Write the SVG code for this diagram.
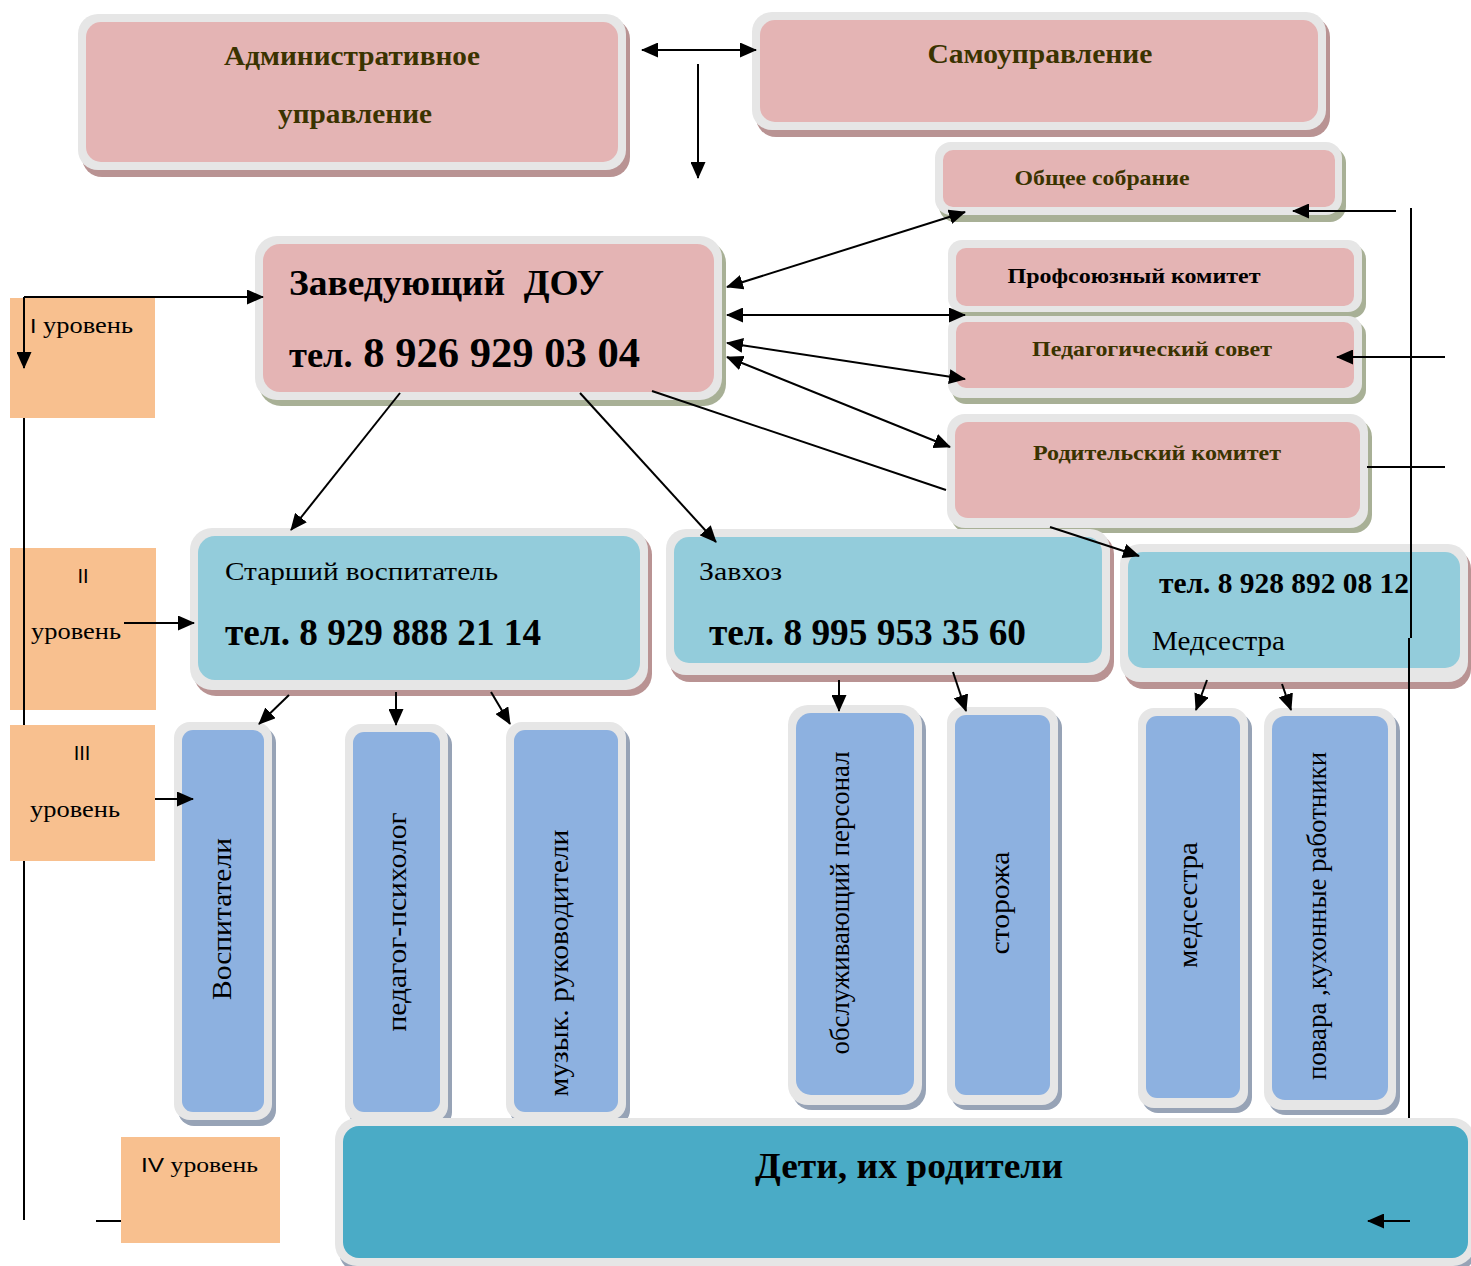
<svg xmlns="http://www.w3.org/2000/svg" width="1471" height="1266" viewBox="0 0 1471 1266">
<style>
.o{fill:#e6e6e6}
.sp{fill:#b99393}
.sg{fill:#a8b096}
.sb{fill:#97a3b6}
.pk{fill:#e4b4b4}
.cy{fill:#93ccdb}
.bl{fill:#8db1e0}
.dt{fill:#4aabc6}
.lv{fill:#f8c08f}
text{font-family:"Liberation Serif","Times New Roman",serif;fill:#000}
.hb{font-weight:bold;fill:#3a3300}
.bk{font-weight:bold;fill:#000}
.sans{font-family:"Liberation Sans",Arial,sans-serif}
.c{stroke:#000;stroke-width:2;fill:none}
.a{marker-end:url(#ah)}
.d{marker-start:url(#ah);marker-end:url(#ah)}
</style>
<defs>
<marker id="ah" markerUnits="userSpaceOnUse" markerWidth="17" markerHeight="15" refX="16" refY="7.5" orient="auto-start-reverse">
<path d="M0,0 L17,7.5 L0,15 z" fill="#000"/>
</marker>
</defs>
<rect width="1471" height="1266" fill="#fff"/>

<!-- level labels -->
<g id="level1"><rect class="lv" x="10" y="298" width="145" height="120"/><text x="30" y="333" font-size="23" textLength="103" lengthAdjust="spacingAndGlyphs"><tspan class="sans" font-size="20">I</tspan> уровень</text></g>
<g id="level2"><rect class="lv" x="10" y="548" width="146" height="162"/><text class="sans" x="83" y="583" font-size="20" text-anchor="middle">II</text><text x="31" y="639" font-size="23" textLength="90" lengthAdjust="spacingAndGlyphs">уровень</text></g>
<g id="level3"><rect class="lv" x="10" y="725" width="145" height="136"/><text class="sans" x="82" y="760" font-size="20" text-anchor="middle">III</text><text x="30" y="817" font-size="23" textLength="90" lengthAdjust="spacingAndGlyphs">уровень</text></g>
<g id="level4"><rect class="lv" x="121" y="1137" width="159" height="106"/><text x="141" y="1172" font-size="21" textLength="117" lengthAdjust="spacingAndGlyphs"><tspan class="sans" font-size="20">IV</tspan> уровень</text></g>

<!-- nodes -->
<g id="admin">
<rect class="sp" x="82" y="19" width="548" height="158" rx="20"/>
<rect class="o" x="78" y="14" width="548" height="156" rx="20"/>
<rect class="pk" x="86" y="22" width="532" height="140" rx="15"/>
<text class="hb" x="352" y="65" font-size="28" text-anchor="middle" textLength="256" lengthAdjust="spacingAndGlyphs">Административное</text>
<text class="hb" x="355" y="123" font-size="28" text-anchor="middle" textLength="154" lengthAdjust="spacingAndGlyphs">управление</text>
</g>
<g id="samoupr">
<rect class="sp" x="756" y="17" width="574" height="120" rx="20"/>
<rect class="o" x="752" y="12" width="574" height="118" rx="20"/>
<rect class="pk" x="760" y="20" width="558" height="102" rx="15"/>
<text class="hb" x="1040" y="63" font-size="28" text-anchor="middle" textLength="225" lengthAdjust="spacingAndGlyphs">Самоуправление</text>
</g>
<g id="obshchee">
<rect class="sg" x="939" y="147" width="407" height="75" rx="16"/>
<rect class="o" x="935" y="142" width="407" height="73" rx="16"/>
<rect class="pk" x="943" y="150" width="392" height="57" rx="10"/>
<text class="hb" x="1102" y="185" font-size="21" text-anchor="middle" textLength="175" lengthAdjust="spacingAndGlyphs">Общее собрание</text>
</g>
<g id="zaved">
<rect class="sg" x="259" y="241" width="467" height="165" rx="22"/>
<rect class="o" x="255" y="236" width="467" height="164" rx="22"/>
<rect class="pk" x="263" y="244" width="451" height="148" rx="17"/>
<text class="bk" x="289" y="295" font-size="35" textLength="315" lengthAdjust="spacingAndGlyphs" xml:space="preserve">Заведующий  ДОУ</text>
<text class="bk" x="289" y="367" font-size="42" textLength="351" lengthAdjust="spacingAndGlyphs"><tspan font-size="36">тел.</tspan> 8 926 929 03 04</text>
</g>
<g id="profsoyuz">
<rect class="sg" x="952" y="245" width="414" height="73" rx="14"/>
<rect class="o" x="948" y="240" width="414" height="72" rx="14"/>
<rect class="pk" x="956" y="248" width="398" height="58" rx="10"/>
<text class="bk" x="1134" y="283" font-size="21" text-anchor="middle" textLength="253" lengthAdjust="spacingAndGlyphs">Профсоюзный комитет</text>
</g>
<g id="pedsovet">
<rect class="sg" x="952" y="321" width="414" height="83" rx="14"/>
<rect class="o" x="948" y="316" width="414" height="82" rx="14"/>
<rect class="pk" x="956" y="322" width="398" height="66" rx="10"/>
<text class="hb" x="1152" y="356" font-size="21" text-anchor="middle" textLength="240" lengthAdjust="spacingAndGlyphs">Педагогический совет</text>
</g>
<g id="roditel">
<rect class="sg" x="951" y="419" width="421" height="114" rx="18"/>
<rect class="o" x="947" y="414" width="421" height="114" rx="18"/>
<rect class="pk" x="955" y="422" width="405" height="96" rx="13"/>
<text class="hb" x="1157" y="460" font-size="21" text-anchor="middle" textLength="248" lengthAdjust="spacingAndGlyphs">Родительский комитет</text>
</g>
<g id="starshiy">
<rect class="sp" x="194" y="533" width="458" height="163" rx="22"/>
<rect class="o" x="190" y="528" width="458" height="162" rx="22"/>
<rect class="cy" x="198" y="536" width="442" height="144" rx="17"/>
<text x="225" y="580" font-size="26" textLength="273" lengthAdjust="spacingAndGlyphs">Старший воспитатель</text>
<text class="bk" x="225" y="645" font-size="37" textLength="316" lengthAdjust="spacingAndGlyphs">тел. 8 929 888 21 14</text>
</g>
<g id="zavkhoz">
<rect class="sp" x="670" y="534" width="444" height="148" rx="20"/>
<rect class="o" x="666" y="529" width="444" height="146" rx="20"/>
<rect class="cy" x="674" y="537" width="428" height="126" rx="15"/>
<text x="699" y="580" font-size="26" textLength="83" lengthAdjust="spacingAndGlyphs">Завхоз</text>
<text class="bk" x="709" y="645" font-size="37" textLength="317" lengthAdjust="spacingAndGlyphs">тел. 8 995 953 35 60</text>
</g>
<g id="medsestra">
<rect class="sp" x="1124" y="549" width="347" height="140" rx="20"/>
<rect class="o" x="1120" y="544" width="348" height="138" rx="20"/>
<rect class="cy" x="1128" y="552" width="332" height="116" rx="15"/>
<text class="bk" x="1159" y="593" font-size="29" textLength="250" lengthAdjust="spacingAndGlyphs">тел. 8 928 892 08 12</text>
<text x="1152" y="650" font-size="27" textLength="133" lengthAdjust="spacingAndGlyphs">Медсестра</text>
</g>

<g id="vospitateli">
<rect class="sb" x="178" y="727" width="98" height="399" rx="16"/>
<rect class="o" x="174" y="722" width="98" height="398" rx="16"/>
<rect class="bl" x="182" y="730" width="82" height="382" rx="11"/>
<text transform="translate(222,919) rotate(-90)" y="9" font-size="27" text-anchor="middle" textLength="162" lengthAdjust="spacingAndGlyphs">Воспитатели</text>
</g>
<g id="psiholog">
<rect class="sb" x="349" y="729" width="103" height="399" rx="16"/>
<rect class="o" x="345" y="724" width="103" height="398" rx="16"/>
<rect class="bl" x="353" y="732" width="87" height="380" rx="11"/>
<text transform="translate(397,922) rotate(-90)" y="9" font-size="27" text-anchor="middle" textLength="219" lengthAdjust="spacingAndGlyphs">педагог-психолог</text>
</g>
<g id="muzyk">
<rect class="sb" x="510" y="727" width="120" height="399" rx="16"/>
<rect class="o" x="506" y="722" width="120" height="398" rx="16"/>
<rect class="bl" x="514" y="730" width="104" height="382" rx="11"/>
<text transform="translate(559,963) rotate(-90)" y="9" font-size="27" text-anchor="middle" textLength="267" lengthAdjust="spacingAndGlyphs">музык. руководители</text>
</g>
<g id="obsluzh">
<rect class="sb" x="792" y="710" width="134" height="400" rx="20"/>
<rect class="o" x="788" y="705" width="134" height="400" rx="20"/>
<rect class="bl" x="796" y="713" width="118" height="382" rx="15"/>
<text transform="translate(840,903) rotate(-90)" y="9" font-size="27" text-anchor="middle" textLength="303" lengthAdjust="spacingAndGlyphs">обслуживающий персонал</text>
</g>
<g id="storozha">
<rect class="sb" x="951" y="712" width="111" height="398" rx="16"/>
<rect class="o" x="947" y="707" width="111" height="398" rx="16"/>
<rect class="bl" x="955" y="715" width="95" height="380" rx="11"/>
<text transform="translate(1000,903) rotate(-90)" y="9" font-size="27" text-anchor="middle" textLength="103" lengthAdjust="spacingAndGlyphs">сторожа</text>
</g>
<g id="medsestra2">
<rect class="sb" x="1142" y="713" width="110" height="400" rx="16"/>
<rect class="o" x="1138" y="708" width="110" height="400" rx="16"/>
<rect class="bl" x="1146" y="716" width="94" height="382" rx="11"/>
<text transform="translate(1188,905) rotate(-90)" y="9" font-size="27" text-anchor="middle" textLength="126" lengthAdjust="spacingAndGlyphs">медсестра</text>
</g>
<g id="povara">
<rect class="sb" x="1268" y="713" width="132" height="402" rx="18"/>
<rect class="o" x="1264" y="708" width="132" height="402" rx="18"/>
<rect class="bl" x="1272" y="716" width="116" height="384" rx="13"/>
<text transform="translate(1317,916) rotate(-90)" y="9" font-size="27" text-anchor="middle" textLength="328" lengthAdjust="spacingAndGlyphs">повара ,кухонные работники</text>
</g>
<g id="deti">
<rect class="sb" x="339" y="1123" width="1136" height="150" rx="22"/>
<rect class="o" x="335" y="1118" width="1140" height="148" rx="22"/>
<rect class="dt" x="343" y="1126" width="1125" height="132" rx="16"/>
<text class="bk" x="909" y="1178" font-size="36" text-anchor="middle" textLength="308" lengthAdjust="spacingAndGlyphs">Дети, их родители</text>
</g>

<!-- connectors -->
<g id="connectors">
<line class="c d" x1="642" y1="50" x2="756" y2="50"/>
<line class="c a" x1="698" y1="64" x2="698" y2="178"/>
<line class="c a" x1="24" y1="297" x2="263" y2="297"/>
<line class="c a" x1="24" y1="297" x2="24" y2="368"/>
<line class="c" x1="24" y1="418" x2="24" y2="725"/>
<line class="c" x1="24" y1="861" x2="24" y2="1220"/>
<line class="c" x1="96" y1="1221" x2="121" y2="1221"/>
<line class="c a" x1="124" y1="623" x2="194" y2="623"/>
<line class="c a" x1="155" y1="799" x2="193" y2="799"/>
<line class="c d" x1="727" y1="287" x2="965" y2="212"/>
<line class="c d" x1="727" y1="315" x2="965" y2="315"/>
<line class="c d" x1="727" y1="343" x2="965" y2="379"/>
<line class="c d" x1="727" y1="357" x2="950" y2="447"/>
<line class="c" x1="652" y1="391" x2="946" y2="490"/>
<line class="c a" x1="1050" y1="527" x2="1139" y2="556"/>
<line class="c a" x1="400" y1="393" x2="291" y2="530"/>
<line class="c a" x1="580" y1="393" x2="716" y2="542"/>
<line class="c a" x1="289" y1="695" x2="259" y2="724"/>
<line class="c a" x1="396" y1="692" x2="396" y2="725"/>
<line class="c a" x1="491" y1="692" x2="510" y2="724"/>
<line class="c a" x1="839" y1="680" x2="839" y2="711"/>
<line class="c a" x1="953" y1="672" x2="966" y2="711"/>
<line class="c a" x1="1207" y1="680" x2="1196" y2="710"/>
<line class="c a" x1="1282" y1="684" x2="1291" y2="710"/>
<line class="c" x1="1411" y1="208" x2="1411" y2="638"/>
<line class="c" x1="1409" y1="638" x2="1409" y2="1118"/>
<line class="c a" x1="1396" y1="211" x2="1293" y2="211"/>
<line class="c a" x1="1445" y1="357" x2="1337" y2="357"/>
<line class="c" x1="1367" y1="467" x2="1445" y2="467"/>
<line class="c a" x1="1410" y1="1221" x2="1368" y2="1221"/>
</g>
</svg>
